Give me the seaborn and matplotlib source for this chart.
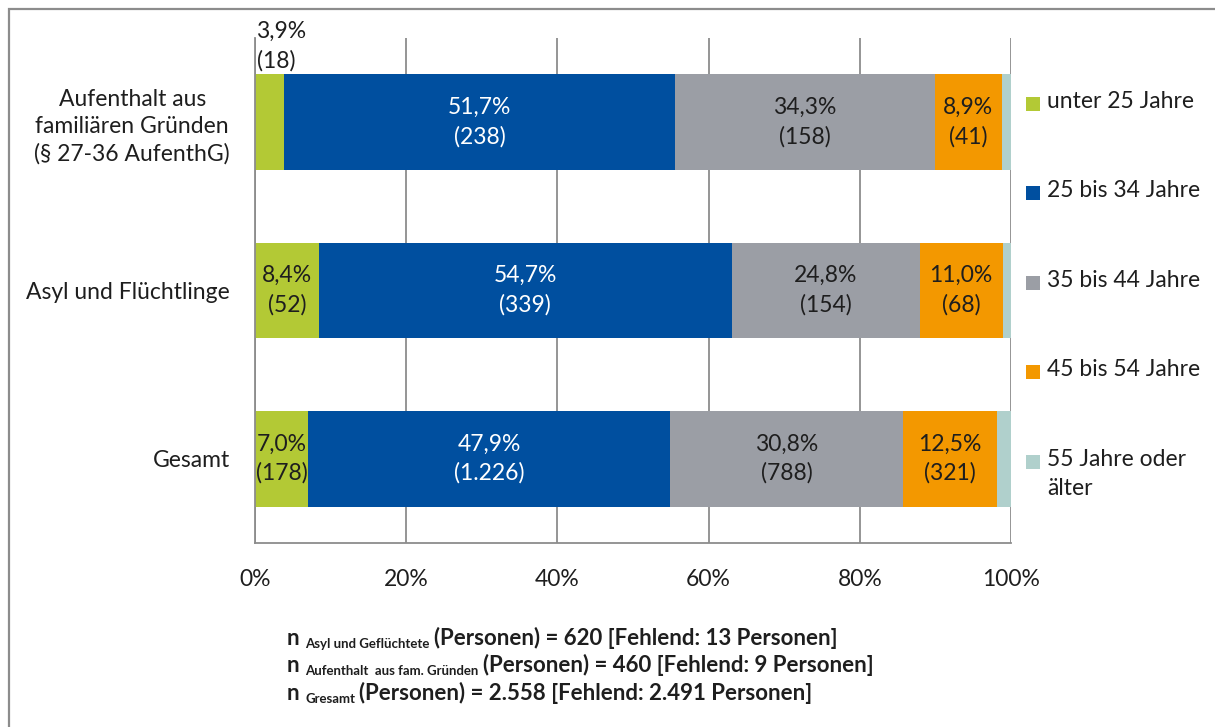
import numpy as np
import matplotlib.pyplot as plt
import seaborn as sns
from matplotlib.patches import Rectangle

## Data
categories = ['Aufenthalt aus\nfamiliären Gründen\n(§ 27-36 AufenthG)',
              'Asyl und Flüchtlinge', 'Gesamt']
age_groups = ['unter 25 Jahre', '25 bis 34 Jahre', '35 bis 44 Jahre',
              '45 bis 54 Jahre', '55 Jahre oder\nälter']
share_u25 = [3.9, 8.4, 7.0]
share_25_34 = [51.7, 54.7, 47.9]
share_35_44 = [34.3, 24.8, 30.8]
share_45_54 = [8.9, 11.0, 12.5]
share_55 = [1.2, 1.1, 1.8]
count_u25 = ['18', '52', '178']
count_25_34 = ['238', '339', '1.226']
count_35_44 = ['158', '154', '788']
count_45_54 = ['41', '68', '321']
x_ticks = [0, 20, 40, 60, 80, 100]

note_subs = ['Asyl und Geflüchtete', 'Aufenthalt  aus fam. Gründen', 'Gresamt']
note_rest = ['(Personen) = 620 [Fehlend: 13 Personen]',
             '(Personen) = 460 [Fehlend: 9 Personen]',
             '(Personen) = 2.558 [Fehlend: 2.491 Personen]']

colors = ['#B3C935', '#004F9F', '#9B9EA5', '#F39800', '#B0D0CC']
grid_col = '#8C8C8C'
text_col = '#1E1E1E'
fs = 16.5

sns.set_style('white')
plt.rcParams['font.family'] = ['Lato', 'DejaVu Sans']

W, H = 1215, 727
fig = plt.figure(figsize=(W / 100, H / 100), dpi=100)
ax = fig.add_axes([255 / W, 1 - 543 / H, (1011 - 255) / W, (543 - 38) / H])

## Stacked bars: draw cumulative totals, longest first
shares = np.array([share_u25, share_25_34, share_35_44, share_45_54, share_55])
cum = np.cumsum(shares, axis=0)
for i in reversed(range(len(shares))):
    sns.barplot(x=cum[i], y=categories, color=colors[i], orient='h', width=0.57,
                saturation=1, errorbar=None, linewidth=0, zorder=2, ax=ax)

ax.set_xlim(0, 100)
ax.set_ylim(2.5, -0.5)
ax.set_xlabel('')
ax.set_ylabel('')

## Axes styling
ax.set_xticks(x_ticks)
ax.set_xticklabels([f'{v}%' for v in x_ticks], fontsize=fs, color=text_col)
ax.xaxis.grid(True, color=grid_col, lw=1.3, zorder=0)
ax.yaxis.grid(False)
ax.set_axisbelow(True)
ax.tick_params(axis='x', length=6, width=1.2, color=grid_col, pad=13, direction='out')
ax.set_yticks([0, 1, 2])
ax.set_yticklabels(categories, fontsize=fs, color=text_col, linespacing=1.35)
for lab in ax.get_yticklabels():
    lab.set_multialignment('center')
ax.tick_params(axis='y', which='major', length=0, pad=18)
ax.set_yticks([-0.5, 0.5, 1.5, 2.5], minor=True)
ax.tick_params(axis='y', which='minor', length=7, width=1.2, color=grid_col, direction='out')
ax.tick_params(axis='x', which='minor', length=0)
for side in ['top', 'right']:
    ax.spines[side].set_visible(False)
for side in ['left', 'bottom']:
    ax.spines[side].set_color(grid_col)
    ax.spines[side].set_linewidth(1.3)

## Segment labels
counts = [count_u25, count_25_34, count_35_44, count_45_54]
for i in range(4):
    for j in range(len(categories)):
        v = shares[i][j]
        label = f'{v:.1f}%'.replace('.', ',') + f'\n({counts[i][j]})'
        col = 'white' if i == 1 else text_col
        start = cum[i][j] - v
        if v < 5:
            # too narrow: label sits above the bar
            ax.text(start + 0.2, j - 0.45, label, ha='left', va='center',
                    fontsize=fs, color=col, linespacing=1.45, zorder=3)
        else:
            ax.text(start + v / 2, j, label, ha='center', va='center',
                    fontsize=fs, color=col, linespacing=1.45, zorder=3)

## Legend drawn by hand (Excel style spacing)
leg_y = [104, 193, 283, 372, 462]
for k, name in enumerate(age_groups):
    fig.add_artist(Rectangle((1026 / W, 1 - (leg_y[k] + 7) / H), 14 / W, 14 / H,
                             transform=fig.transFigure, color=colors[k], lw=0))
    fig.text(1047 / W, 1 - (leg_y[k] - 13) / H, name, fontsize=fs, color=text_col,
             va='top', ha='left', linespacing=1.45)

## Footnote with subscripts
note_y = [645, 672, 700]
for k in range(3):
    t_n = fig.text(287 / W, 1 - note_y[k] / H, 'n', fontsize=16,
                   fontweight='bold', color=text_col, va='baseline')
    t_sub = ax.annotate(note_subs[k], xy=(1, 0), xycoords=t_n, xytext=(4, -1),
                        textcoords='offset points', va='bottom', fontsize=9.5,
                        fontweight='bold', color=text_col, annotation_clip=False)
    ax.annotate(note_rest[k], xy=(1, 0), xycoords=(t_sub, t_n), xytext=(3, 0),
                textcoords='offset points', va='bottom', fontsize=16,
                fontweight='bold', color=text_col, annotation_clip=False)

## Outer frame (only left and top edges fall inside the image)
fig.add_artist(Rectangle((9 / W, -0.1), 1.2, 1.1 - 9 / H,
                         transform=fig.transFigure, fill=False,
                         edgecolor=grid_col, lw=1.6))

plt.savefig('out.png', dpi=100)
plt.close()
